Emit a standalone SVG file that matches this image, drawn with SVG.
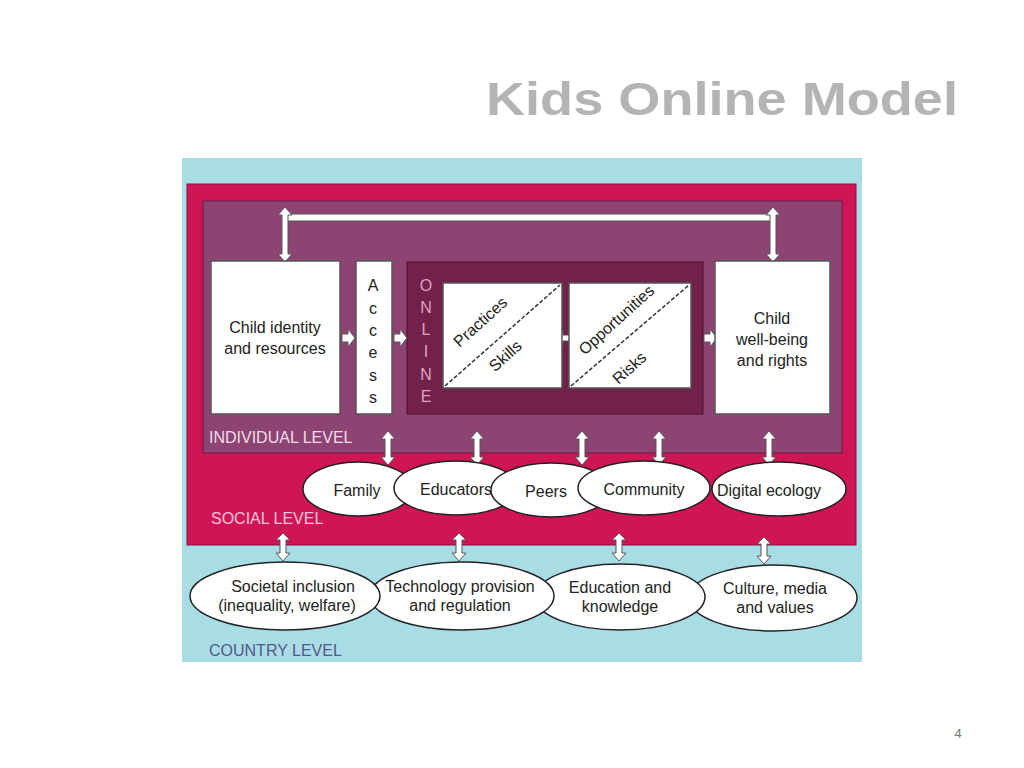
<svg xmlns="http://www.w3.org/2000/svg" width="1024" height="768" viewBox="0 0 1024 768">
<style>
text{font-family:"Liberation Sans",Arial,sans-serif;}
.box{fill:#fff;stroke:#555;stroke-width:1.5}
.t{font-size:16px;fill:#222;text-anchor:middle}
.ell{fill:#fff;stroke:#222;stroke-width:1.5}
.arr{fill:#fff;stroke:#555;stroke-width:1}
.lv{font-size:16px}
.dash{stroke:#333;stroke-width:1.5;stroke-dasharray:4,2}
</style>
<rect width="1024" height="768" fill="#fff"/>
<text x="722" y="115" font-family="'Open Sans','Liberation Sans',sans-serif" font-weight="bold" font-size="46" fill="#b4b4b4" text-anchor="middle" textLength="472" lengthAdjust="spacingAndGlyphs">Kids Online Model</text>
<text x="958" y="738" font-size="13" fill="#777" text-anchor="middle">4</text>

<rect x="182" y="158" width="680" height="504" fill="#a8dde6"/>
<rect x="187" y="184" width="669" height="361" fill="#d01556" stroke="#8a1040" stroke-width="1"/>
<rect x="203" y="201" width="639" height="252" fill="#8d4472" stroke="#5a2046" stroke-width="1"/>
<rect x="407" y="262" width="296" height="152" fill="#72214a" stroke="#4a1030" stroke-width="1"/>

<g id="connectors">
<rect class="arr" x="283" y="214" width="493" height="7"/>
<polygon class="arr" points="285,207 292,215 288,215 288,254 292,254 285,262 278,254 282,254 282,215 278,215"/>
<polygon class="arr" points="773,207 780,215 776,215 776,254 780,254 773,262 766,254 770,254 770,215 766,215"/>
<polygon class="arr" points="342,334 348,334 348,329 355,338 348,347 348,342 342,342"/>
<polygon class="arr" points="394,334 400,334 400,329 407,338 400,347 400,342 394,342"/>
<polygon class="arr" points="704,334 710,334 710,329 717,338 710,347 710,342 704,342"/>
<polygon class="arr" points="556,338 563,330 563,335 569,335 569,330 576,338 569,346 569,341 563,341 563,346"/>
<polygon class="arr" points="388,431 395,439 391,439 391,457 395,457 388,465 381,457 385,457 385,439 381,439"/>
<polygon class="arr" points="477,431 484,439 480,439 480,457 484,457 477,465 470,457 474,457 474,439 470,439"/>
<polygon class="arr" points="582,431 589,439 585,439 585,457 589,457 582,465 575,457 579,457 579,439 575,439"/>
<polygon class="arr" points="659,431 666,439 662,439 662,457 666,457 659,465 652,457 656,457 656,439 652,439"/>
<polygon class="arr" points="769,431 776,439 772,439 772,457 776,457 769,465 762,457 766,457 766,439 762,439"/>
<polygon class="arr" points="283,533 290,540 286,540 286,553 290,553 283,561 276,553 280,553 280,540 276,540"/>
<polygon class="arr" points="459,533 466,540 462,540 462,553 466,553 459,561 452,553 456,553 456,540 452,540"/>
<polygon class="arr" points="619,533 626,540 622,540 622,553 626,553 619,561 612,553 616,553 616,540 612,540"/>
<polygon class="arr" points="764,537 771,544 767,544 767,556 771,556 764,564 757,556 761,556 761,544 757,544"/>
</g>

<g id="child-identity"><rect class="box" x="211" y="261" width="129" height="153"/>
<text class="t" x="275" y="333">Child identity</text><text class="t" x="275" y="354">and resources</text></g>
<g id="access"><rect class="box" x="356" y="261" width="36" height="153"/>
<g class="t"><text class="t" x="373" y="291">A</text><text class="t" x="373" y="314">c</text><text class="t" x="373" y="336">c</text><text class="t" x="373" y="358">e</text><text class="t" x="373" y="381">s</text><text class="t" x="373" y="403">s</text></g></g>
<g id="online" fill="#e0a0c0" font-size="16" text-anchor="middle">
<text x="426" y="291">O</text><text x="426" y="313">N</text><text x="426" y="335">L</text><text x="426" y="357">I</text><text x="426" y="380">N</text><text x="426" y="402">E</text></g>
<g id="practices"><rect class="box" x="443" y="283" width="119" height="105"/>
<line class="dash" x1="445" y1="386" x2="560" y2="285"/>
<text class="t" transform="translate(484,326) rotate(-42)">Practices</text>
<text class="t" transform="translate(509,360) rotate(-42)">Skills</text></g>
<g id="opportunities"><rect class="box" x="569" y="283" width="122" height="105"/>
<line class="dash" x1="571" y1="386" x2="689" y2="285"/>
<text class="t" transform="translate(620,324) rotate(-42)">Opportunities</text>
<text class="t" transform="translate(633,372) rotate(-42)">Risks</text></g>
<g id="wellbeing"><rect class="box" x="715" y="261" width="115" height="153"/>
<text class="t" x="772" y="324">Child</text><text class="t" x="772" y="345">well-being</text><text class="t" x="772" y="366">and rights</text></g>

<text class="lv" x="209" y="443" fill="#f2dcea">INDIVIDUAL LEVEL</text>
<text class="lv" x="211" y="524" fill="#f7c4d6">SOCIAL LEVEL</text>
<text class="lv" x="209" y="656" fill="#55588a">COUNTRY LEVEL</text>

<g id="family"><ellipse class="ell" cx="358" cy="489" rx="55" ry="27"/><text class="t" x="357" y="496">Family</text></g>
<g id="educators"><ellipse class="ell" cx="456" cy="488" rx="62" ry="27"/><text class="t" x="456" y="495">Educators</text></g>
<g id="peers"><ellipse class="ell" cx="551" cy="490" rx="60" ry="27"/><text class="t" x="546" y="497">Peers</text></g>
<g id="community"><ellipse class="ell" cx="644" cy="488" rx="66" ry="27"/><text class="t" x="644" y="495">Community</text></g>
<g id="digital"><ellipse class="ell" cx="779" cy="489" rx="67" ry="27"/><text class="t" x="769" y="496">Digital ecology</text></g>

<g id="culture"><ellipse class="ell" cx="773" cy="598" rx="84" ry="33"/><text class="t" x="775" y="594">Culture, media</text><text class="t" x="775" y="613">and values</text></g>
<g id="education"><ellipse class="ell" cx="620" cy="597" rx="85" ry="33"/><text class="t" x="620" y="593">Education and</text><text class="t" x="620" y="612">knowledge</text></g>
<g id="technology"><ellipse class="ell" cx="462" cy="596" rx="92" ry="34"/><text class="t" x="460" y="592">Technology provision</text><text class="t" x="460" y="611">and regulation</text></g>
<g id="societal"><ellipse class="ell" cx="285" cy="596" rx="95" ry="34"/><text class="t" x="293" y="592">Societal inclusion</text><text class="t" x="287" y="611">(inequality, welfare)</text></g>
</svg>
